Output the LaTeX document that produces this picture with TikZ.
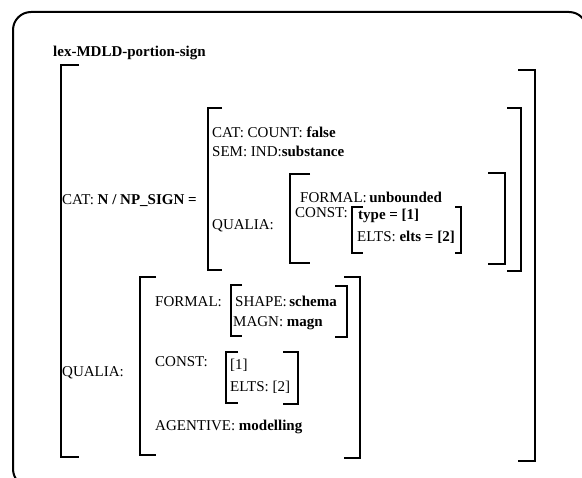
\documentclass[tikz,border=0pt]{standalone}
\usepackage{fontspec}
\setmainfont{Liberation Serif}
\begin{document}
\begin{tikzpicture}[x=1pt,y=-1pt,
  brk/.style={line width=2.2pt, line cap=butt, line join=miter},
  frame/.style={line width=2pt, rounded corners=18pt},
  txt/.style={anchor=base west, inner sep=0pt, font=\fontsize{15}{18}\selectfont}]
\useasboundingbox (0,0) rectangle (582,478);
\fill[white] (0,0) rectangle (582,478);
\draw[frame] (13,12) rectangle (587,487);

% brackets: left [ and right ]
\newcommand{\lbrk}[4]{\draw[brk] (#4,#2) -- (#1,#2) -- (#1,#3) -- (#4,#3);}
\newcommand{\rbrk}[4]{\draw[brk] (#4,#2) -- (#1,#2) -- (#1,#3) -- (#4,#3);}
\lbrk{61}{65}{457}{79}
\rbrk{535}{70}{461}{518}
\lbrk{208}{108}{270}{222}
\rbrk{521}{108}{271}{507}
\lbrk{290}{174}{263}{310}
\rbrk{505}{173}{264}{488}
\lbrk{352}{207}{253}{363}
\rbrk{461}{207}{253}{455}
\lbrk{140}{277}{455}{156}
\rbrk{360}{277}{458}{344}
\lbrk{231}{285}{336}{242}
\rbrk{347}{286}{337}{335}
\lbrk{226}{352}{403}{238}
\rbrk{298}{352}{404}{283}

% texts
\node[txt] (title) at (53,57) {\textbf{lex-MDLD-portion-sign}};
\node[txt] (cat) at (62,205) {CAT: \textbf{N / NP\_SIGN =}};
\node[txt] (qual) at (62,377) {QUALIA:};
\node[txt] (count) at (212,138) {CAT: COUNT: \textbf{false}};
\node[txt] (sem) at (212,157) {SEM: IND:\textbf{substance}};
\node[txt] (qualb) at (212,230) {QUALIA:};
\node[txt] (formala) at (300,203) {FORMAL:\,\textbf{unbounded}};
\node[txt] (consta) at (295,218) {CONST:};
\node[txt] (type) at (358,220) {\textbf{type = [1]}};
\node[txt] (eltsa) at (357,242) {ELTS: \textbf{elts = [2]}};
\node[txt] (formalb) at (155,307) {FORMAL:};
\node[txt] (shape) at (235,307) {SHAPE:\,\textbf{schema}};
\node[txt] (magn) at (233,327) {MAGN: \textbf{magn}};
\node[txt] (constb) at (155,367) {CONST:};
\node[txt] (one) at (230,370) {[1]};
\node[txt] (eltsb) at (230,392) {ELTS: [2]};
\node[txt] (agent) at (155,431) {AGENTIVE: \textbf{modelling}};
\end{tikzpicture}
\end{document}
